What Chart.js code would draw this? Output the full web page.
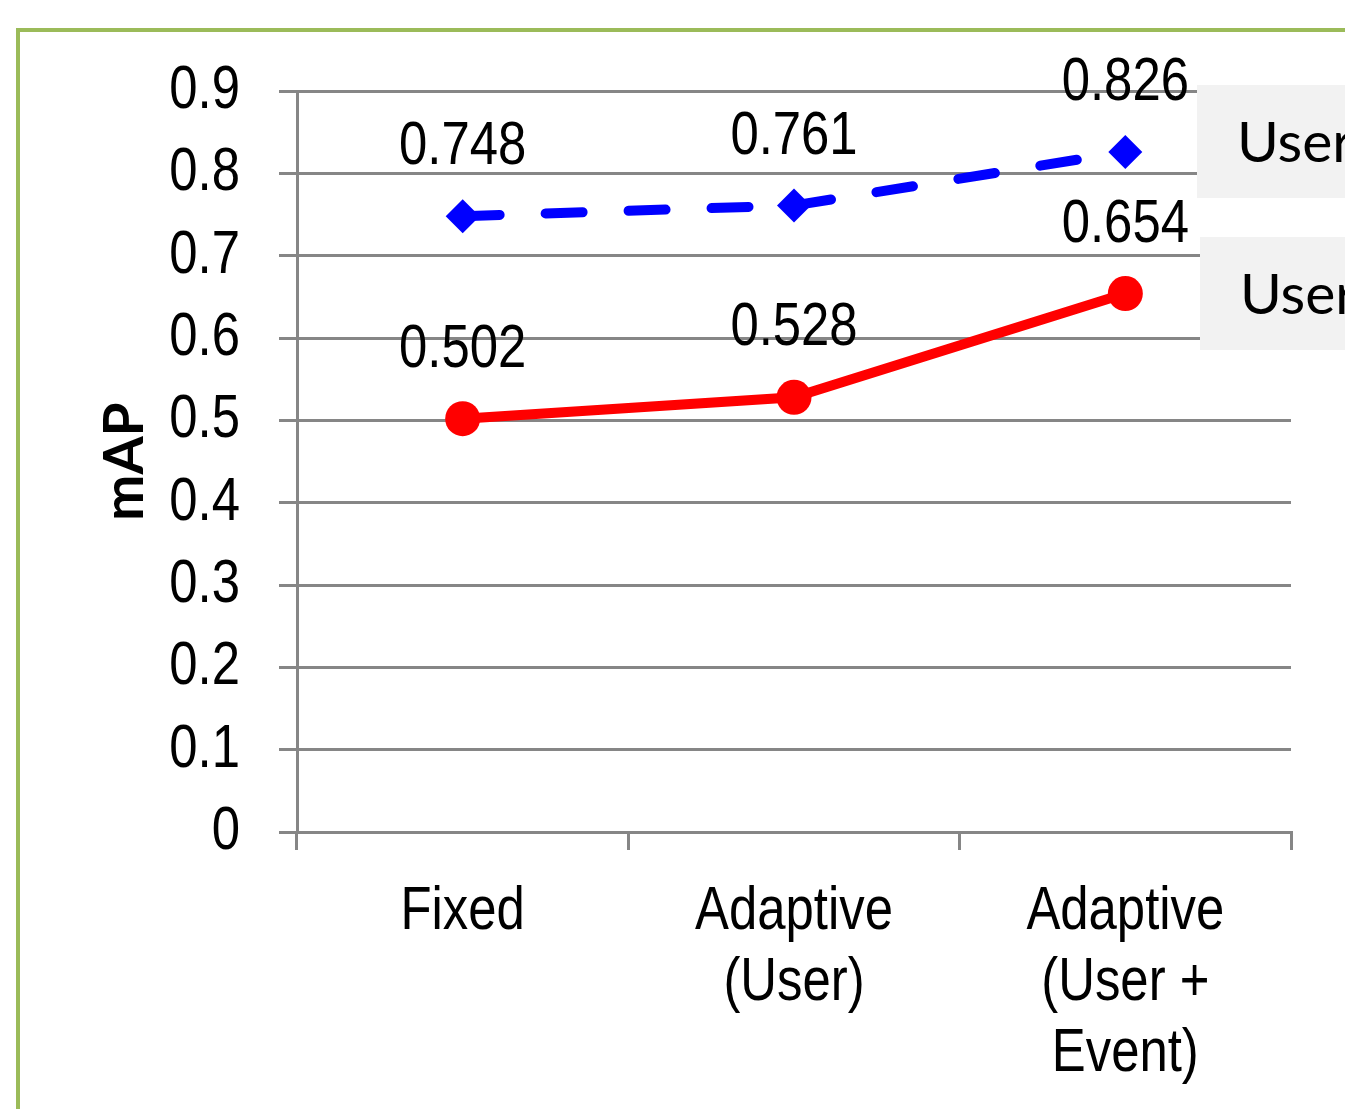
<!DOCTYPE html>
<html>
<head>
<meta charset="utf-8">
<style>
  html, body { margin: 0; padding: 0; background: #ffffff; overflow: hidden; }
  #wrap { position: relative; width: 1345px; height: 1109px; }
</style>
<script src="https://cdn.jsdelivr.net/npm/chart.js@4/dist/chart.umd.min.js"></script>
</head>
<body>
<div id="wrap"><canvas id="chart" width="1345" height="1109"></canvas></div>
<script>
// ---- data ----
const categories = [["Fixed"], ["Adaptive", "(User)"], ["Adaptive", "(User +", "Event)"]];
const seriesNames = ["User + Event", "User"];
const blueValues = [0.748, 0.761, 0.826];
const redValues = [0.502, 0.528, 0.654];
const yTickLabels = ["0", "0.1", "0.2", "0.3", "0.4", "0.5", "0.6", "0.7", "0.8", "0.9"];
const yMin = 0, yMax = 0.9, yStep = 0.1;

// ---- styles ----
const NARROW = '"Liberation Sans", Arial, sans-serif';
const NARROW_SCALE = 0.82;
const GRID = '#868686';

const canvas = document.getElementById('chart');
const ctx0 = canvas.getContext('2d');
// Condense "Liberation Sans" text horizontally (Arial Narrow look), anchored at the text's x
const origFill = ctx0.fillText;
ctx0.fillText = function (text, x, y, maxW) {
  if (this.font.indexOf('Liberation Sans') >= 0) {
    this.save();
    this.translate(x, y);
    this.scale(NARROW_SCALE, 1);
    origFill.call(this, text, 0, 0);
    this.restore();
  } else if (maxW !== undefined) {
    origFill.call(this, text, x, y, maxW);
  } else {
    origFill.call(this, text, x, y);
  }
};

const framePlugin = {
  id: 'frame',
  beforeDraw(chart) {
    const c = chart.ctx;
    c.save();
    c.fillStyle = '#9BBB59';
    c.fillRect(16, 28, chart.width, 4);
    c.fillRect(16, 28, 4, chart.height);
    c.restore();
  }
};

const valueLabels = {
  id: 'valueLabels',
  afterDatasetsDraw(chart) {
    const c = chart.ctx;
    c.save();
    c.font = '62px ' + NARROW;
    c.fillStyle = '#000';
    c.textAlign = 'center';
    c.textBaseline = 'middle';
    chart.data.datasets.forEach((ds, di) => {
      const meta = chart.getDatasetMeta(di);
      meta.data.forEach((pt, i) => {
        c.fillText(ds.data[i].toFixed(3), pt.x, pt.y - 69);
      });
    });
    c.restore();
  }
};

const legendBoxes = {
  id: 'legendBoxes',
  afterDraw(chart) {
    const c = chart.ctx;
    const a = chart.chartArea;
    const boxes = [
      { left: a.right - 94, top: a.top - 6, h: 113, text: seriesNames[0] },
      { left: a.right - 91, top: a.top + 146, h: 113, text: seriesNames[1] }
    ];
    c.save();
    boxes.forEach(b => {
      c.fillStyle = '#F2F2F2';
      c.fillRect(b.left, b.top, chart.width - b.left, b.h);
      c.fillStyle = '#000';
      c.font = '57px Lato, "Open Sans", sans-serif';
      c.textAlign = 'left';
      c.textBaseline = 'middle';
      c.fillText(b.text, b.left + 40, b.top + b.h / 2 + 2);
    });
    c.restore();
  }
};

new Chart(canvas, {
  type: 'line',
  data: {
    labels: categories,
    datasets: [
      {
        label: seriesNames[0],
        data: blueValues,
        borderColor: '#0000FF',
        backgroundColor: '#0000FF',
        borderWidth: 10,
        borderDash: [37, 46],
        borderCapStyle: 'round',
        pointStyle: 'rectRot',
        pointRadius: 17,
        pointHoverRadius: 17,
        pointBorderWidth: 0,
        tension: 0
      },
      {
        label: seriesNames[1],
        data: redValues,
        borderColor: '#FF0000',
        backgroundColor: '#FF0000',
        borderWidth: 10,
        borderCapStyle: 'round',
        pointStyle: 'circle',
        pointRadius: 17.5,
        pointHoverRadius: 17.5,
        pointBorderWidth: 0,
        tension: 0
      }
    ]
  },
  options: {
    responsive: false,
    animation: false,
    events: [],
    layout: { padding: { top: 91, right: 54, left: 0, bottom: 0 } },
    plugins: { legend: { display: false }, tooltip: { enabled: false } },
    scales: {
      x: {
        offset: true,
        grid: { offset: true, drawOnChartArea: false, drawTicks: true, tickLength: 18, color: GRID, lineWidth: 3 },
        border: { display: true, color: GRID, width: 3 },
        ticks: { font: { family: NARROW, size: 62, lineHeight: 1.15 }, color: '#000', padding: 26, maxRotation: 0, minRotation: 0, autoSkip: false },
        afterFit(s) { s.height = 277; }
      },
      y: {
        min: yMin, max: yMax,
        ticks: {
          stepSize: yStep,
          font: { family: NARROW, size: 62 },
          color: '#000',
          padding: 39,
          callback: (v, i) => yTickLabels[i]
        },
        grid: { color: GRID, lineWidth: 3, tickLength: 18 },
        border: { display: true, color: GRID, width: 3 },
        title: { display: true, text: 'mAP', color: '#000', font: { family: 'Lato', weight: 'bold', size: 55, lineHeight: 1.2 }, padding: { top: 92, bottom: 0 } },
        afterFit(s) { s.width = 297; }
      }
    }
  },
  plugins: [framePlugin, valueLabels, legendBoxes]
});
</script>
</body>
</html>
